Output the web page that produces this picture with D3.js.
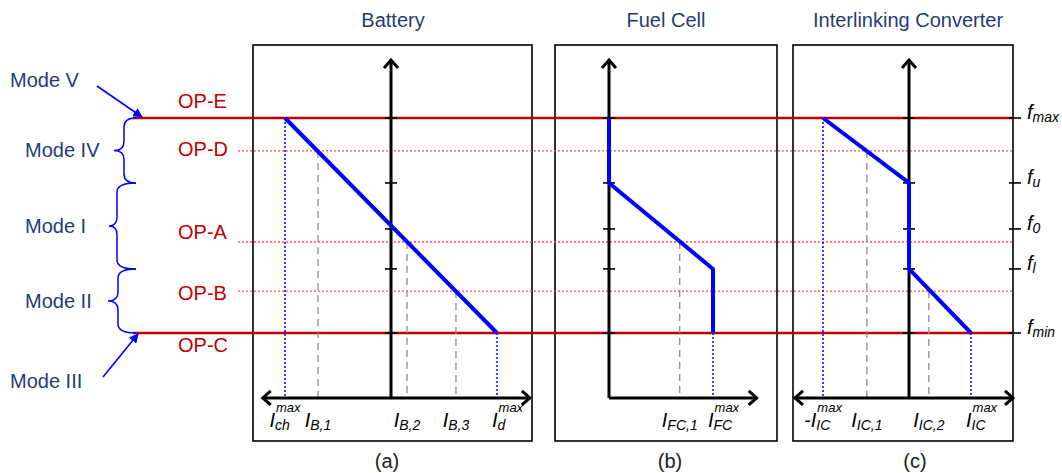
<!DOCTYPE html>
<html>
<head>
<meta charset="utf-8">
<script src="https://cdn.jsdelivr.net/npm/d3@7"></script>
<style>
  body { margin: 0; background: #fff; }
  svg { display: block; font-family: "Liberation Sans", Arial, sans-serif; }
</style>
</head>
<body>
<svg width="1062" height="473"></svg>
<script>
// frequency is normalised: fmin = 0, fmax = 1
const freqSubs   = ["max", "u", "0", "l", "min"];
const freqValues = [1.0, 0.698, 0.484, 0.298, 0.0];

const opNames  = ["OP-E", "OP-D", "OP-A", "OP-B", "OP-C"];
const opValues = [1.0, 0.847, 0.423, 0.195, 0.0];

// braces on the left
const modeNames = ["Mode IV", "Mode I", "Mode II"];
const modeFrom  = [1.0, 0.698, 0.298];
const modeTo    = [0.698, 0.298, 0.0];

// battery droop (current vs frequency)
const batteryI = [-1, 1];
const batteryF = [1, 0];
const batteryMarkSubs = ["ch", "B,1", "B,2", "B,3", "d"];
const batteryMarkI    = [-1, -0.689, 0.151, 0.613, 1];
const batteryMarkF    = [1, 0.847, 0.423, 0.195, 0];
const batteryMarkKind = ["lo", "mid", "mid", "mid", "hi"];

// fuel cell
const fuelI = [0, 0, 1, 1];
const fuelF = [1, 0.698, 0.298, 0];
const fuelMarkSubs = ["FC,1", "FC"];
const fuelMarkI    = [0.68, 1];
const fuelMarkF    = [0.423, 0];
const fuelMarkKind = ["mid", "hi"];

// interlinking converter
const icI = [-1, 0, 0, 1];
const icF = [1, 0.698, 0.298, 0];
const icMarkSubs = ["IC", "IC,1", "IC,2", "IC"];
const icMarkI    = [-1, -0.49, 0.32, 1];
const icMarkF    = [1, 0.847, 0.195, 0];
const icMarkKind = ["lo", "mid", "mid", "hi"];

const RED = "#C00000", BLUE = "#0000FF", NAVY = "#1F3C78";

const svg = d3.select("svg");

const y = d3.scaleLinear().domain([0, 1]).range([333, 118]);
const axisBottomF = -0.302, axisTopF = 1.27;

const panels = [
  { title: "Battery", cap: "(a)", box: [253, 532], zero: 391, left: 106, right: 106,
    ext: [-1.21, 1.31], arrowLeft: true, titleX: 393, capX: 387,
    I: batteryI, F: batteryF, subs: batteryMarkSubs, mI: batteryMarkI, mF: batteryMarkF, kind: batteryMarkKind },
  { title: "Fuel Cell", cap: "(b)", box: [555, 777], zero: 609, left: 104, right: 104,
    ext: [0, 1.42], arrowLeft: false, titleX: 666, capX: 670,
    I: fuelI, F: fuelF, subs: fuelMarkSubs, mI: fuelMarkI, mF: fuelMarkF, kind: fuelMarkKind },
  { title: "Interlinking Converter", cap: "(c)", box: [793, 1013], zero: 909, left: 86, right: 62,
    ext: [-1.326, 1.677], arrowLeft: true, titleX: 908, capX: 915,
    I: icI, F: icF, subs: icMarkSubs, mI: icMarkI, mF: icMarkF, kind: icMarkKind }
];
panels.forEach(p => {
  p.x = d3.scaleLinear().domain([-1, 0, 1]).range([p.zero - p.left, p.zero, p.zero + p.right]);
});

const boxTop = 45, boxBottom = 441;
const rightEdge = panels[2].box[1];

// boxes
panels.forEach(p => {
  svg.append("rect")
    .attr("x", p.box[0]).attr("y", boxTop)
    .attr("width", p.box[1] - p.box[0]).attr("height", boxBottom - boxTop)
    .attr("fill", "none").attr("stroke", "#000").attr("stroke-width", 1.6);
  svg.append("text")
    .attr("x", p.titleX).attr("y", 27)
    .attr("text-anchor", "middle").attr("font-size", 20).attr("fill", NAVY)
    .text(p.title);
  svg.append("text")
    .attr("x", p.capX).attr("y", 468)
    .attr("text-anchor", "middle").attr("font-size", 20).attr("fill", "#222")
    .text(p.cap);
});

// operating point lines
const opLabelDy = [-10.5, 5.5, -3.5, 8.5, 18.5];
opValues.forEach((v, i) => {
  const solid = v === 1 || v === 0;
  svg.append("line")
    .attr("x1", solid ? 133 : 238).attr("x2", rightEdge)
    .attr("y1", y(v)).attr("y2", y(v))
    .attr("stroke", solid ? RED : "#FF4D4D")
    .attr("stroke-width", solid ? 2.6 : 1.4)
    .attr("stroke-dasharray", solid ? null : "2,2");
  svg.append("text")
    .attr("x", 178).attr("y", y(v) + opLabelDy[i])
    .attr("font-size", 20).attr("fill", RED)
    .text(opNames[i]);
});

// label with italic base, subscript and optional superscript
function ivLabel(parent, base, sub, sup) {
  const g = parent.append("g");
  const t = g.append("text").attr("font-style", "italic").attr("font-size", 20).text(base);
  const w = t.node().getComputedTextLength();
  const s = g.append("text").attr("x", w).attr("y", 3)
    .attr("font-style", "italic").attr("font-size", 14).text(sub);
  let width = w + s.node().getComputedTextLength();
  if (sup) {
    const u = g.append("text").attr("x", w + 1).attr("y", -15)
      .attr("font-style", "italic").attr("font-size", 13).text(sup);
    width = Math.max(width, w + 1 + u.node().getComputedTextLength());
  }
  return { g, width };
}

const axisY = y(axisBottomF);

panels.forEach(p => {
  const x = p.x;

  // guide lines from the curve down to the current axis
  p.mI.forEach((c, i) => {
    const limit = p.kind[i] !== "mid";
    svg.append("line")
      .attr("x1", x(c)).attr("x2", x(c))
      .attr("y1", y(p.mF[i])).attr("y2", axisY)
      .attr("stroke", limit ? BLUE : "#8C8C8C")
      .attr("stroke-width", limit ? 1.5 : 1.3)
      .attr("stroke-dasharray", limit ? "2,2" : "7,5");

    const base = (p.kind[i] === "lo" && p.title !== "Battery") ? "-I" : "I";
    const lab = ivLabel(svg, base, p.subs[i], limit ? "max" : null);
    const lx = p.kind[i] === "hi" ? x(c) - 5 : x(c) - lab.width / 2;
    lab.g.attr("transform", `translate(${lx},427)`);
  });

  // current axis (horizontal)
  const xa = x(p.ext[0]), xb = x(p.ext[1]);
  svg.append("line")
    .attr("x1", xa).attr("x2", xb).attr("y1", axisY).attr("y2", axisY)
    .attr("stroke", "#000").attr("stroke-width", 3);
  const head = d3.path();
  head.moveTo(xb - 8, axisY - 7); head.lineTo(xb, axisY); head.lineTo(xb - 8, axisY + 7);
  if (p.arrowLeft) {
    head.moveTo(xa + 8, axisY - 7); head.lineTo(xa, axisY); head.lineTo(xa + 8, axisY + 7);
  }
  // frequency axis (vertical)
  const vx = x(0), vt = y(axisTopF);
  head.moveTo(vx - 7, vt + 8); head.lineTo(vx, vt); head.lineTo(vx + 7, vt + 8);
  svg.append("path").attr("d", head.toString())
    .attr("fill", "none").attr("stroke", "#000").attr("stroke-width", 3)
    .attr("stroke-linejoin", "miter");
  svg.append("line")
    .attr("x1", vx).attr("x2", vx).attr("y1", vt).attr("y2", axisY)
    .attr("stroke", "#000").attr("stroke-width", 3);

  // frequency ticks on each axis
  freqValues.forEach(v => {
    svg.append("line")
      .attr("x1", vx - 6).attr("x2", vx + 6).attr("y1", y(v)).attr("y2", y(v))
      .attr("stroke", "#000").attr("stroke-width", 1.6);
  });

  // characteristic
  svg.append("path")
    .datum(d3.zip(p.I, p.F))
    .attr("d", d3.line().x(d => x(d[0])).y(d => y(d[1])))
    .attr("fill", "none").attr("stroke", BLUE).attr("stroke-width", 4)
    .attr("stroke-linejoin", "round");
});

// frequency tick labels on the right
freqValues.forEach((v, i) => {
  svg.append("line")
    .attr("x1", rightEdge - 4).attr("x2", rightEdge + 8).attr("y1", y(v)).attr("y2", y(v))
    .attr("stroke", "#000").attr("stroke-width", 1.6);
  const lab = ivLabel(svg, "f", freqSubs[i], null);
  lab.g.attr("transform", `translate(1027,${y(v) + 1})`);
});

// braces
function brace(y1, y2, spine, tip, end) {
  const ym = (y1 + y2) / 2, r = 9;
  const p = d3.path();
  p.moveTo(end, y1);
  p.quadraticCurveTo(spine, y1, spine, y1 + r);
  p.lineTo(spine, ym - r);
  p.quadraticCurveTo(spine, ym, tip, ym);
  p.quadraticCurveTo(spine, ym, spine, ym + r);
  p.lineTo(spine, y2 - r);
  p.quadraticCurveTo(spine, y2, end, y2);
  return p.toString();
}
const braceSpine = [124, 117, 118], braceTip = [114, 109, 108];
modeNames.forEach((m, i) => {
  const y1 = y(modeFrom[i]), y2 = y(modeTo[i]);
  svg.append("path")
    .attr("d", brace(y1, y2, braceSpine[i], braceTip[i], 136))
    .attr("fill", "none").attr("stroke", BLUE).attr("stroke-width", 1.5);
  svg.append("text")
    .attr("x", 25).attr("y", (y1 + y2) / 2 + 7)
    .attr("font-size", 20).attr("fill", NAVY).text(m);
});

// Mode V / Mode III arrows
svg.append("defs").append("marker")
  .attr("id", "ah").attr("viewBox", "0 0 10 10")
  .attr("refX", 9).attr("refY", 5)
  .attr("markerWidth", 6).attr("markerHeight", 6)
  .attr("orient", "auto")
  .append("path").attr("d", "M0,0 L10,5 L0,10 Z").attr("fill", BLUE);

svg.append("line")
  .attr("x1", 97).attr("y1", 86).attr("x2", 142).attr("y2", y(1) - 1)
  .attr("stroke", BLUE).attr("stroke-width", 1.6).attr("marker-end", "url(#ah)");
svg.append("line")
  .attr("x1", 103).attr("y1", 377).attr("x2", 138).attr("y2", y(0) + 1)
  .attr("stroke", BLUE).attr("stroke-width", 1.6).attr("marker-end", "url(#ah)");

svg.append("text").attr("x", 10).attr("y", 87)
  .attr("font-size", 20).attr("fill", NAVY).text("Mode V");
svg.append("text").attr("x", 10).attr("y", 388)
  .attr("font-size", 20).attr("fill", NAVY).text("Mode III");
</script>
</body>
</html>
